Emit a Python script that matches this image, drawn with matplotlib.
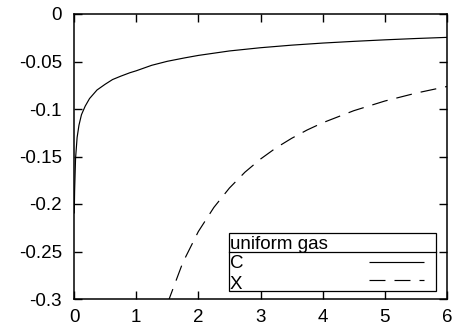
import matplotlib
matplotlib.use("Agg")
import matplotlib.pyplot as plt
from matplotlib.lines import Line2D
from matplotlib.patches import Rectangle

plt.rcParams['font.family'] = ['Liberation Sans', 'DejaVu Sans']
plt.rcParams['lines.scale_dashes'] = False

# Correlation energy of the uniform gas (C)
rs_c = [0.004, 0.01, 0.025, 0.05, 0.08, 0.12, 0.18, 0.25, 0.37, 0.5, 0.62,
        0.75, 0.9, 1.0, 1.25, 1.5, 1.78, 2.0, 2.5, 3.0, 3.5, 4.0, 4.5, 5.0,
        5.5, 6.0]
e_c = [-0.210, -0.186, -0.152, -0.130, -0.117, -0.106, -0.097, -0.089,
       -0.080, -0.074, -0.069, -0.0655, -0.0618, -0.0598, -0.0540, -0.0498,
       -0.0462, -0.0436, -0.0389, -0.0355, -0.0328, -0.0306, -0.0288,
       -0.0272, -0.0258, -0.0246]

# Exchange energy of the uniform gas (X)
rs_x = [1.5, 1.75, 2.0, 2.25, 2.5, 2.75, 3.0, 3.25, 3.5, 3.75, 4.0,
        4.5, 5.0, 5.5, 6.0]
e_x = [-0.3053, -0.2617, -0.2290, -0.2036, -0.1832, -0.1665, -0.1527,
       -0.1409, -0.1309, -0.1221, -0.1145, -0.1018, -0.0916, -0.0833,
       -0.0763]

xticks = [0, 1, 2, 3, 4, 5, 6]
yticks = [0, -0.05, -0.1, -0.15, -0.2, -0.25, -0.3]
ytick_labels = ['0', '-0.05', '-0.1', '-0.15', '-0.2', '-0.25', '-0.3']

fig = plt.figure(figsize=(4.53, 3.29), dpi=100)
ax = fig.add_axes([74 / 453, 30 / 329, 373 / 453, 285 / 329])

dash = (0, (11.5, 6.5))
ax.plot(rs_c, e_c, color='black', lw=0.85, solid_capstyle='butt')
ax.plot(rs_x, e_x, color='black', lw=0.85, linestyle=dash,
        dash_capstyle='butt')

ax.set_xlim(0, 6)
ax.set_ylim(-0.3, 0)
ax.set_xticks(xticks)
ax.set_xticklabels([str(t) for t in xticks])
ax.set_yticks(yticks)
ax.set_yticklabels(ytick_labels)
ax.tick_params(direction='in', length=5.8, width=1.0, labelsize=13.5,
               top=True, right=True, color='black')
ax.tick_params(axis='y', pad=8.6)
ax.tick_params(axis='x', pad=7.0)
for s in ax.spines.values():
    s.set_linewidth(1.1)

# Key box in the lower right
tr = ax.transAxes
x0, x1 = 0.4164, 0.9705
y0, y1, ysep = 0.0291, 0.2326, 0.1639
ax.add_patch(Rectangle((x0, y0), x1 - x0, y1 - y0, transform=tr,
                       fill=False, lw=0.9, edgecolor='black', zorder=5))
ax.add_line(Line2D([x0, x1], [ysep, ysep], transform=tr, color='black',
                   lw=0.9, zorder=5))
ax.text(0.418, 0.1765, 'uniform gas', transform=tr, fontsize=13.5,
        va='baseline', ha='left')
ax.text(0.418, 0.1077, 'C', transform=tr, fontsize=13.5,
        va='baseline', ha='left')
ax.text(0.418, 0.034, 'X', transform=tr, fontsize=13.5,
        va='baseline', ha='left')
ax.add_line(Line2D([0.7909, 0.9383], [0.1309, 0.1309], transform=tr,
                   color='black', lw=0.85, solid_capstyle='butt'))
ax.add_line(Line2D([0.7909, 0.9383], [0.0656, 0.0656], transform=tr,
                   color='black', lw=0.85, linestyle=dash,
                   dash_capstyle='butt'))

fig.savefig('out.png', dpi=100)
